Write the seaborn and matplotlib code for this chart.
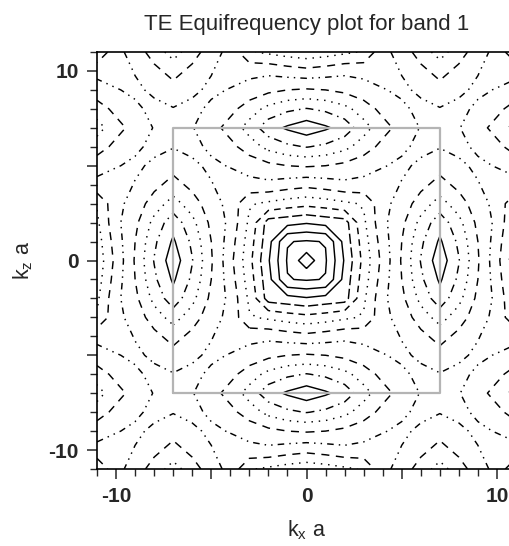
import numpy as np
import matplotlib
matplotlib.use("Agg")
import matplotlib.pyplot as plt
import seaborn as sns
import pandas as pd

# ---------------- data (read/estimated from the reference) ----------------
# band-1 frequency (arbitrary units) on a 1-unit k grid, first quadrant of the
# zone, kx index = row, kz index = column (k = 0 .. 7)
freq_quadrant = [
    [0.0, 1.9, 4.1, 6.3, 8.3, 10.1, 12.05, 13.6],
    [1.9, 2.05, 4.35, 6.5, 8.5, 10.0, 11.8, 13.15],
    [4.1, 4.35, 4.55, 6.8, 8.75, 9.75, 11.3, 12.6],
    [6.3, 6.5, 6.8, 7.1, 8.7, 9.4, 10.5, 11.4],
    [8.3, 8.5, 8.75, 8.7, 8.6, 9.05, 9.7, 10.4],
    [10.1, 10.0, 9.75, 9.4, 9.05, 8.85, 9.15, 9.6],
    [12.05, 11.8, 11.3, 10.5, 9.7, 9.15, 8.8, 8.95],
    [13.6, 13.15, 12.6, 11.4, 10.4, 9.6, 8.95, 8.7],
]
zone_edge = 7            # Brillouin-zone half width (grey square)
k_values = list(range(-11, 12))
contour_levels = [0.8, 2, 3, 4, 5, 6, 7, 8, 9, 10, 11, 12, 13]
x_tick_values = [-10, -5, 0, 5, 10]
x_tick_labels = ["-10", "", "0", "", "10"]
y_tick_values = [-10, -5, 0, 5, 10]
y_tick_labels = ["-10", "", "0", "", "10"]
title_text = "TE Equifrequency plot for band 1"

# ---------------- build the full (periodic / mirrored) field --------------
k_axis = np.array(k_values)
fold = np.where(np.abs(k_axis) <= zone_edge, np.abs(k_axis),
                2 * zone_edge - np.abs(k_axis))
Z = np.array(freq_quadrant)[np.ix_(fold, fold)]
KX, KZ = np.meshgrid(k_axis, k_axis)

# ---------------- styling ----------------
sns.set_style("ticks")
plt.rcParams["font.family"] = ["Liberation Sans", "DejaVu Sans"]
plt.rcParams["mathtext.fontset"] = "custom"
plt.rcParams["mathtext.rm"] = "Liberation Sans"
plt.rcParams["mathtext.it"] = "Liberation Sans"

fig = plt.figure(figsize=(5.09, 5.46), dpi=100)
ax = fig.add_axes([97 / 509, 77 / 546, 419 / 509, 417 / 546])

styles = [
    "solid", "solid", "solid", "solid",
    (0, (7, 2.5)),                 # long dash
    (0, (4.5, 3.5)),               # dash
    (0, (1, 4)),                   # dots
    (0, (5.5, 4.5)),               # dash
    (0, (4.5, 3.5, 1, 3.5, 1, 3.5)),   # dash-dot-dot
    (0, (5.5, 4.5)),               # dash
    (0, (1, 4)),                   # dots
    (0, (5.5, 3.5, 1, 3.5)),       # dash-dot
    "solid",
]
ax.contour(KX, KZ, Z, levels=contour_levels, colors="black",
           linewidths=1.05, linestyles=styles)

sq = pd.DataFrame({
    "kx": [-zone_edge, zone_edge, zone_edge, -zone_edge, -zone_edge],
    "kz": [-zone_edge, -zone_edge, zone_edge, zone_edge, -zone_edge],
})
sns.lineplot(data=sq, x="kx", y="kz", sort=False, estimator=None,
             color="#b4b4b4", linewidth=1.6, ax=ax)

ax.set_xlim(-11, 11)
ax.set_ylim(-11, 11)
ax.set_xticks(x_tick_values)
ax.set_xticklabels(x_tick_labels)
ax.set_yticks(y_tick_values)
ax.set_yticklabels(y_tick_labels)
ax.set_xticks(k_values, minor=True)
ax.set_yticks(k_values, minor=True)
ax.tick_params(which="major", length=7, width=1.1, direction="out",
               labelsize=15, pad=6)
ax.tick_params(which="minor", length=5, width=1.0, direction="out")
for lab in ax.get_xticklabels() + ax.get_yticklabels():
    lab.set_fontweight("bold")
for s in ax.spines.values():
    s.set_linewidth(1.2)
    s.set_color("black")

ax.set_xlabel(r"k$_\mathregular{x}$ a", fontsize=15.5, labelpad=9)
ax.set_ylabel(r"k$_\mathregular{z}$ a", fontsize=15.5, labelpad=10)
ax.set_title(title_text, fontsize=16, pad=16)

fig.savefig("out.png", dpi=100)
